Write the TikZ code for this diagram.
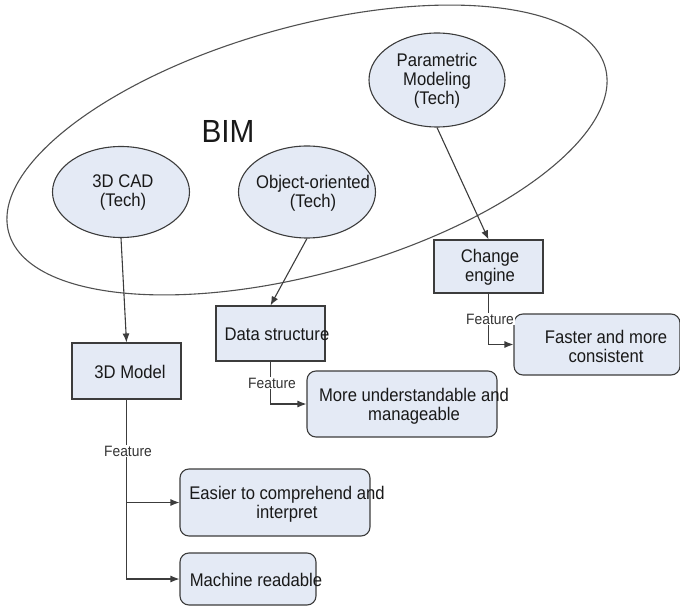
\documentclass[tikz,border=0pt]{standalone}
\usepackage{fontspec}
\setmainfont{Liberation Sans}
\usetikzlibrary{shapes.geometric,arrows.meta}
\definecolor{boxfill}{RGB}{228,234,245}
\definecolor{linec}{RGB}{60,60,60}
\tikzset{
  every picture/.style={line width=1.1pt},
  tech/.style={ellipse, draw=linec, fill=boxfill, inner sep=0pt},
  sqbox/.style={rectangle, draw=linec, fill=boxfill, inner sep=0pt},
  rbox/.style={rectangle, rounded corners=9pt, draw=linec, fill=boxfill, inner sep=0pt},
  txt/.style={inner sep=0pt, align=center, xscale=0.91, text=black!90, font=\fontsize{18.3}{19}\selectfont},
  feat/.style={fill=white, inner sep=1pt, xscale=0.92, font=\fontsize{15}{16}\selectfont, text=black!80},
  conn/.style={draw=linec, line width=1.1pt},
  arr/.style={conn, -{Latex[length=9pt,width=7pt]}},
}
\begin{document}
\begin{tikzpicture}[x=1pt,y=1pt]
\useasboundingbox (0,0) rectangle (680,606);
% BIM ellipse
\node[ellipse, draw=linec!90, minimum width=619pt, minimum height=247pt, rotate=15.5] (bim) at (307,456) {};
\node[inner sep=0pt, xscale=0.93, text=black!90, font=\fontsize{32}{34}\selectfont] (bimt) at (228,475) {BIM};
% technologies
\node[tech, minimum width=136pt, minimum height=94pt] (param) at (437,526) {};
\node[txt] (paramt) at (437,525) {Parametric\\Modeling\\(Tech)};
\node[tech, minimum width=137pt, minimum height=91pt] (cad) at (121,414) {};
\node[txt] (cadt) at (123,413) {3D CAD\\(Tech)};
\node[tech, minimum width=137pt, minimum height=92pt] (obj) at (307,414) {};
\node[txt] (objt) at (313,413) {Object-oriented\\(Tech)};
% square boxes
\node[sqbox, minimum width=109pt, minimum height=53pt] (change) at (488.5,339.5) {};
\node[txt] (changet) at (490,339) {Change\\engine};
\node[sqbox, minimum width=109pt, minimum height=55pt] (data) at (270.5,272.5) {};
\node[txt] (datat) at (277,272) {Data structure};
\node[sqbox, minimum width=109pt, minimum height=56pt] (model) at (126.5,235) {};
\node[txt] (modelt) at (130,234) {3D Model};
% rounded boxes
\node[rbox, minimum width=166pt, minimum height=61pt] (faster) at (597,261.5) {};
\node[txt] (fastert) at (606,260) {Faster and more\\consistent};
\node[rbox, minimum width=190pt, minimum height=66pt] (more) at (402,202) {};
\node[txt] (moret) at (414,200) {More understandable and\\manageable};
\node[rbox, minimum width=190pt, minimum height=67pt] (easier) at (275,103.5) {};
\node[txt] (easiert) at (287,102) {Easier to comprehend and\\interpret};
\node[rbox, minimum width=136pt, minimum height=52pt] (machine) at (248,27) {};
\node[txt] (machinet) at (256,26) {Machine readable};
% connectors tech -> artifact
\draw[arr] (cad.south) -- (model.north);
\draw[arr] (obj.south) -- (data.north);
\draw[arr] (param.south) -- (change.north);
% feature connectors
\draw[arr] (change.south) |- (faster.west);
\draw[arr] (data.south) |- (more.west);
\draw[arr] (model.south) |- (easier.west);
\draw[arr] (model.south) |- (machine.west);
% feature labels
\node[feat] (f1) at (490,287) {Feature};
\node[feat] (f2) at (272,223) {Feature};
\node[feat] (f3) at (128,155) {Feature};
\end{tikzpicture}
\end{document}
